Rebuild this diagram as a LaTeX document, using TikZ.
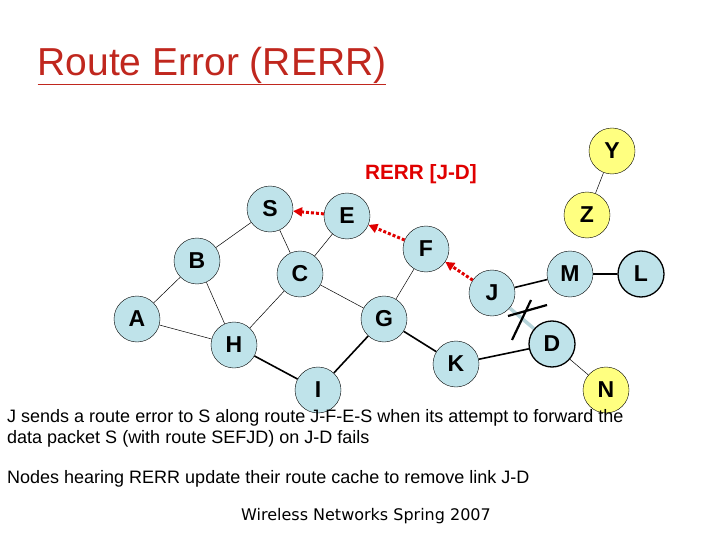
\documentclass[tikz,border=0pt]{standalone}
\usepackage{fontspec}
\setmainfont{Liberation Sans}
\newfontfamily\footfont{DejaVu Sans}
\usetikzlibrary{arrows.meta,backgrounds}
\definecolor{nodeblue}{HTML}{BFE3EA}
\definecolor{nodeyel}{HTML}{FFFF80}
\definecolor{titlered}{HTML}{C0271E}
\definecolor{rerrred}{HTML}{E00000}
\begin{document}
\begin{tikzpicture}[x=1pt,y=-1pt,
  nd/.style={circle,draw=black,fill=nodeblue,minimum size=46pt,inner sep=0pt,font=\fontsize{23}{25}\selectfont\bfseries},
  yl/.style={nd,fill=nodeyel},
  thk/.style={draw=black,line width=1.6pt},
  thin/.style={draw=black,line width=0.5pt},
  err/.style={draw=rerrred,line width=3pt,dotted,-{Triangle[length=9pt,width=9pt]}}]
\useasboundingbox (0,0) rectangle (720,540);
\node[anchor=west,text=titlered,font=\fontsize{39}{44}\selectfont] (title) at (34,66) {\underline{Route Error (RERR)}};
\node[nd] (S) at (270,209) {S};
\node[nd] (E) at (347,216) {E};
\node[nd] (F) at (426,249) {F};
\node[nd] (B) at (197,261) {B};
\node[nd] (C) at (300,274) {C};
\node[nd] (A) at (137,319) {A};
\node[nd] (H) at (234,345) {H};
\node[nd] (G) at (384,319) {G};
\node[nd] (I) at (318,390) {I};
\node[nd] (K) at (456,364) {K};
\node[nd] (J) at (492,293) {J};
\node[nd] (M) at (570,274) {M};
\node[nd,line width=1.3pt] (L) at (641,274) {L};
\node[nd,line width=1.3pt] (D) at (552,344) {D};
\node[yl] (N) at (606,390) {N};
\node[yl] (Y) at (612,151) {Y};
\node[yl] (Z) at (587,215) {Z};
\node[text=rerrred,font=\bfseries\fontsize{20.7}{23}\selectfont] (rerr) at (421,174) {RERR [J-D]};
\begin{scope}[on background layer]
\path[thin] (S)--(B) (S)--(C) (E)--(C) (B)--(A) (B)--(H) (A)--(H) (C)--(H) (C)--(G) (F)--(G) (D)--(N) (Y)--(Z);
\path[thk] (G)--(I) (H)--(I) (G)--(K) (K)--(D) (J)--(M) (M)--(L);
\draw[nodeblue!85!gray,line width=3.5pt] (J)--(D);
\end{scope}
\coordinate (x1) at (512,340); \coordinate (x2) at (531,300);
\coordinate (x3) at (508,316); \coordinate (x4) at (547,305);
\draw[line width=2.2pt] (x1)--(x2) (x3)--(x4);
\draw[err] (E)--(S);
\draw[err] (F)--(E);
\draw[err] (J)--(F);
\node[anchor=north west,align=left,inner sep=0pt,font=\fontsize{18}{21}\selectfont] (t1) at (7,409) {J sends a route error to S along route J-F-E-S when its attempt to forward the\\data packet S (with route SEFJD) on J-D fails};
\node[anchor=north west,inner sep=0pt,font=\fontsize{18}{21}\selectfont] (t2) at (7,470) {Nodes hearing RERR update their route cache to remove link J-D};
\node[font=\footfont\fontsize{16}{18}\selectfont] (ft) at (366,516) {Wireless Networks Spring 2007};
\end{tikzpicture}
\end{document}
